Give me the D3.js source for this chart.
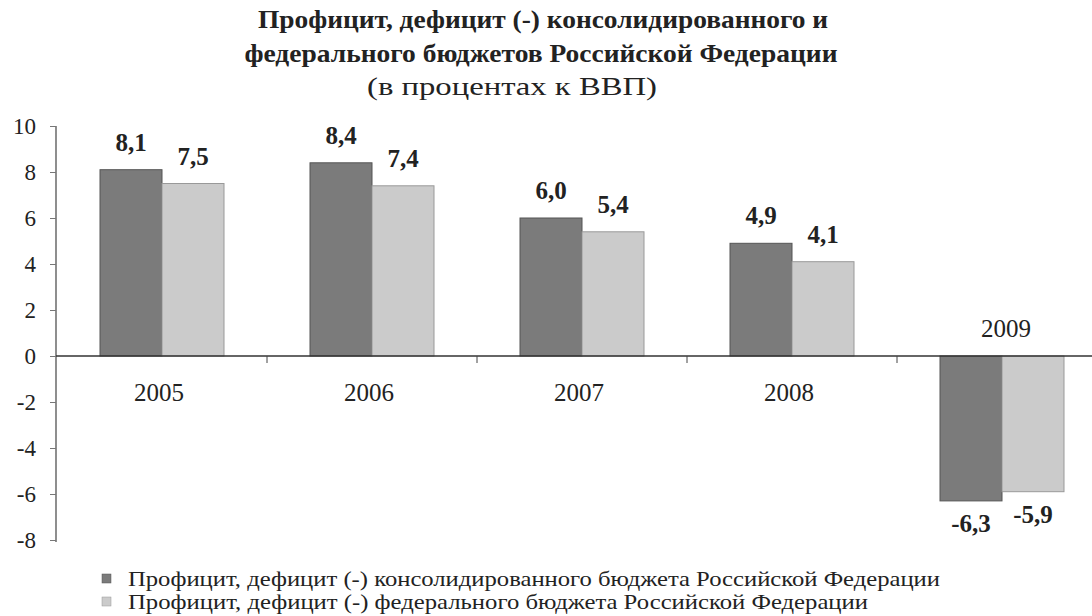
<!DOCTYPE html>
<html><head><meta charset="utf-8">
<script src="https://cdn.jsdelivr.net/npm/d3@7"></script>
<style>body{margin:0;background:#fff}svg{display:block}svg text{font-family:"Liberation Serif","Times New Roman",serif !important;fill:#222}</style>
</head><body><svg id="c" width="1092" height="616"></svg>
<script>
const years = ["2005","2006","2007","2008","2009"];
const seriesNames = [
  "Профицит, дефицит (-) консолидированного бюджета Российской Федерации",
  "Профицит, дефицит (-) федерального бюджета Российской Федерации"
];
const consolidated = [8.1, 8.4, 6.0, 4.9, -6.3];
const federal = [7.5, 7.4, 5.4, 4.1, -5.9];
const yTicks = [-8,-6,-4,-2,0,2,4,6,8,10];
const titleLines = ["Профицит, дефицит (-) консолидированного и", "федерального бюджетов Российской Федерации"];
const subtitle = "(в процентах к ВВП)";

const colors = ["#7b7b7b", "#cbcbcb"];
const strokes = ["#555", "#999"];
const svg = d3.select("#c");
const fmt = v => d3.format(".1f")(v).replace(".", ",").replace("\u2212", "-");

const y = d3.scaleLinear().domain([-8, 10]).range([540, 126]);
const x0 = d3.scaleBand().domain(years).range([57, 1107]).padding(0);
const x1 = d3.scaleBand().domain([0,1]).range([43, 167]).padding(0);
const series = [consolidated, federal];

// title
svg.append("text").attr("x", 543).attr("y", 28).attr("text-anchor","middle")
  .style("font-weight","bold").style("font-size","26px")
  .attr("textLength", 570).attr("lengthAdjust","spacingAndGlyphs").text(titleLines[0]);
svg.append("text").attr("x", 541).attr("y", 62).attr("text-anchor","middle")
  .style("font-weight","bold").style("font-size","26px")
  .attr("textLength", 593).attr("lengthAdjust","spacingAndGlyphs").text(titleLines[1]);
svg.append("text").attr("x", 512).attr("y", 95).attr("text-anchor","middle")
  .style("font-size","25px")
  .attr("textLength", 290).attr("lengthAdjust","spacingAndGlyphs").text(subtitle);

// y axis
const yAxis = svg.append("g").attr("transform","translate(56,0)")
  .attr("font-family","Liberation Serif")
  .call(d3.axisLeft(y).tickValues(yTicks).tickSize(6).tickPadding(14)
    .tickFormat(d => String(d).replace("\u2212", "-")));
yAxis.select(".domain").attr("stroke","#444").attr("stroke-width",1.2).attr("d","M0,126V542");
yAxis.selectAll(".tick line").attr("stroke","#777");
yAxis.selectAll(".tick text").style("font-size","23px").attr("fill","#222");

// bars
years.forEach((yr, i) => {
  series.forEach((s, j) => {
    const v = s[i];
    const bx = x0(yr) + x1(j);
    svg.append("rect")
      .attr("x", bx).attr("width", x1.bandwidth())
      .attr("y", y(Math.max(0, v))).attr("height", Math.abs(y(v) - y(0)))
      .attr("fill", colors[j]).attr("stroke", strokes[j]).attr("stroke-width", 1);
    svg.append("text")
      .attr("x", bx + x1.bandwidth()/2)
      .attr("y", v >= 0 ? y(v) - 19 : y(v) + 31)
      .attr("text-anchor","middle")
      .style("font-weight","bold").style("font-size","25px")
      .text(fmt(v));
  });
});

// zero line
svg.append("line").attr("x1",56).attr("x2",1092).attr("y1",y(0)).attr("y2",y(0))
  .attr("stroke","#333").attr("stroke-width",1.5);
// category ticks
years.slice(1).forEach(yr => {
  svg.append("line").attr("x1", x0(yr)).attr("x2", x0(yr))
    .attr("y1", y(0)).attr("y2", y(0) + 7).attr("stroke","#444");
});
// category labels
years.forEach((yr, i) => {
  const neg = consolidated[i] < 0;
  svg.append("text").attr("x", x0(yr) + x0.bandwidth()/2 + (neg ? 4 : -3))
    .attr("y", neg ? y(0) - 19 : y(0) + 45)
    .attr("text-anchor","middle").style("font-size","25px").text(yr);
});

// legend
seriesNames.forEach((n, j) => {
  const ly = 586 + j * 23;
  svg.append("rect").attr("x", 102).attr("y", ly - 12).attr("width", 9).attr("height", 9)
    .attr("fill", colors[j]).attr("stroke", strokes[j]).attr("stroke-width", 0.5);
  svg.append("text").attr("x", 128).attr("y", ly).style("font-size","22px")
    .attr("textLength", j === 0 ? 812 : 740).attr("lengthAdjust","spacingAndGlyphs").text(n);
});
</script></body></html>
